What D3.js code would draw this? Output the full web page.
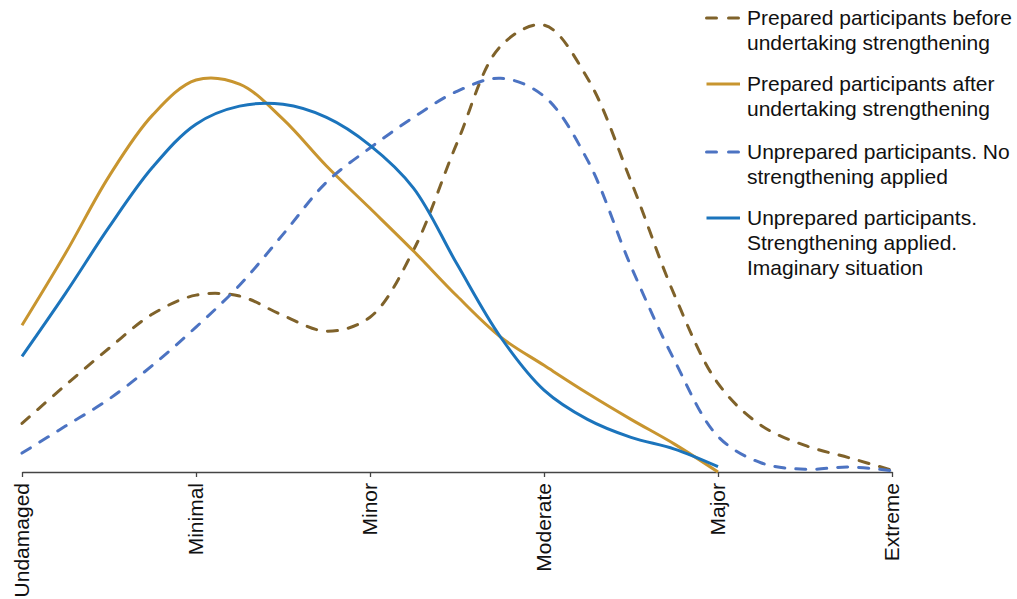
<!DOCTYPE html>
<html>
<head>
<meta charset="utf-8">
<script src="https://cdn.jsdelivr.net/npm/d3@7"></script>
<style>
  html, body { margin: 0; padding: 0; background: #fff; }
  svg { display: block; font-family: "Liberation Sans", Arial, sans-serif; }
</style>
</head>
<body>
<svg id="chart" width="1017" height="599"></svg>
<script>
// ---- data ----
const categories = ["Undamaged", "Minimal", "Minor", "Moderate", "Major", "Extreme"];
// sample positions along the category axis (in category units)
const positions = [0, 0.25, 0.5, 0.75, 1, 1.25, 1.5, 1.75, 2, 2.25, 2.5, 2.75, 3, 3.25, 3.5, 3.75, 4, 4.25, 4.5, 4.75, 5];

const seriesNames = [
  "Prepared participants before undertaking strengthening",
  "Prepared participants after undertaking strengthening",
  "Unprepared participants. No strengthening applied",
  "Unprepared participants. Strengthening applied. Imaginary situation"
];
const legendLines = [
  ["Prepared participants before", "undertaking strengthening"],
  ["Prepared participants after", "undertaking strengthening"],
  ["Unprepared participants. No", "strengthening applied"],
  ["Unprepared participants.", "Strengthening applied.", "Imaginary situation"]
];

const preparedBefore = [10.8, 19.3, 27.5, 35.1, 39.3, 39.1, 34.8, 31.3, 34.4, 49.3, 73.1, 94.6, 99.3, 87.5, 64.6, 39.3, 19.7, 10.3, 5.9, 3.2, 0.4];
const preparedAfter  = [32.6, 48.6, 65.7, 79.3, 87.1, 86.2, 78.4, 68.0, 58.6, 49.1, 39.1, 30.0, 23.7, 17.5, 11.7, 6.2, 0.0];
const unpreparedNo   = [4.2, 10.2, 16.2, 23.7, 32.2, 41.5, 52.8, 64.4, 72.0, 78.8, 84.6, 87.5, 83.5, 69.3, 45.7, 24.8, 7.9, 2.0, 0.6, 1.1, 0.3];
const unpreparedYes  = [25.7, 39.7, 54.4, 67.7, 77.3, 81.3, 81.7, 78.8, 72.6, 63.1, 46.2, 30.0, 18.2, 11.7, 7.7, 5.1, 1.2];

const seriesValues = [preparedBefore, preparedAfter, unpreparedNo, unpreparedYes];
const colors = ["#7f622a", "#c8952f", "#4c73c2", "#1b74bc"];
const dashed = [true, false, true, false];

// ---- layout ----
const svg = d3.select("#chart");
const x0 = 22, x1 = 892, yBase = 472, yTop = 22;

const xPoint = d3.scalePoint().domain(categories).range([x0, x1]);
const xLin = d3.scaleLinear().domain([0, categories.length - 1]).range([x0, x1]);
const y = d3.scaleLinear().domain([0, 100]).range([yBase, yTop]);

// axis
const axis = d3.axisBottom(xPoint).tickSize(5).tickSizeOuter(0).tickFormat("");
const ax = svg.append("g").attr("transform", `translate(0,${yBase})`).call(axis);
ax.select(".domain").attr("stroke", "#444").attr("stroke-width", 1.5);
ax.selectAll(".tick line").attr("stroke", "#444").attr("stroke-width", 1.3);

// rotated category labels
svg.append("g").selectAll("text").data(categories).join("text")
  .attr("transform", d => `translate(${xPoint(d)},${yBase + 11}) rotate(-90)`)
  .attr("text-anchor", "end")
  .attr("dy", "0.35em")
  .attr("font-size", 21)
  .attr("fill", "#111")
  .text(d => d);

// lines
const line = d3.line()
  .x(d => xLin(d[0]))
  .y(d => y(d[1]))
  .curve(d3.curveCatmullRom.alpha(0.5));

seriesValues.forEach((vals, i) => {
  const pts = vals.map((v, j) => [positions[j], v]);
  svg.append("path")
    .datum(pts)
    .attr("fill", "none")
    .attr("stroke", colors[i])
    .attr("stroke-width", 3)
    .attr("stroke-linecap", dashed[i] ? "round" : "butt")
    .attr("stroke-dasharray", dashed[i] ? "10,11" : null)
    .attr("d", line);
});

// legend
const legendY = [18, 84, 152, 218];
const lg = svg.append("g");
legendLines.forEach((lines, i) => {
  const g = lg.append("g").attr("transform", `translate(705,${legendY[i]})`);
  g.append("line")
    .attr("x1", 1.5).attr("x2", 35).attr("y1", 0).attr("y2", 0)
    .attr("stroke", colors[i]).attr("stroke-width", 3)
    .attr("stroke-linecap", dashed[i] ? "round" : "butt")
    .attr("stroke-dasharray", dashed[i] ? "10,12" : null);
  lines.forEach((t, k) => {
    g.append("text")
      .attr("x", 42).attr("y", k * 25)
      .attr("dy", "0.35em")
      .attr("font-size", 21)
      .attr("fill", "#111")
      .text(t);
  });
});
</script>
</body>
</html>
